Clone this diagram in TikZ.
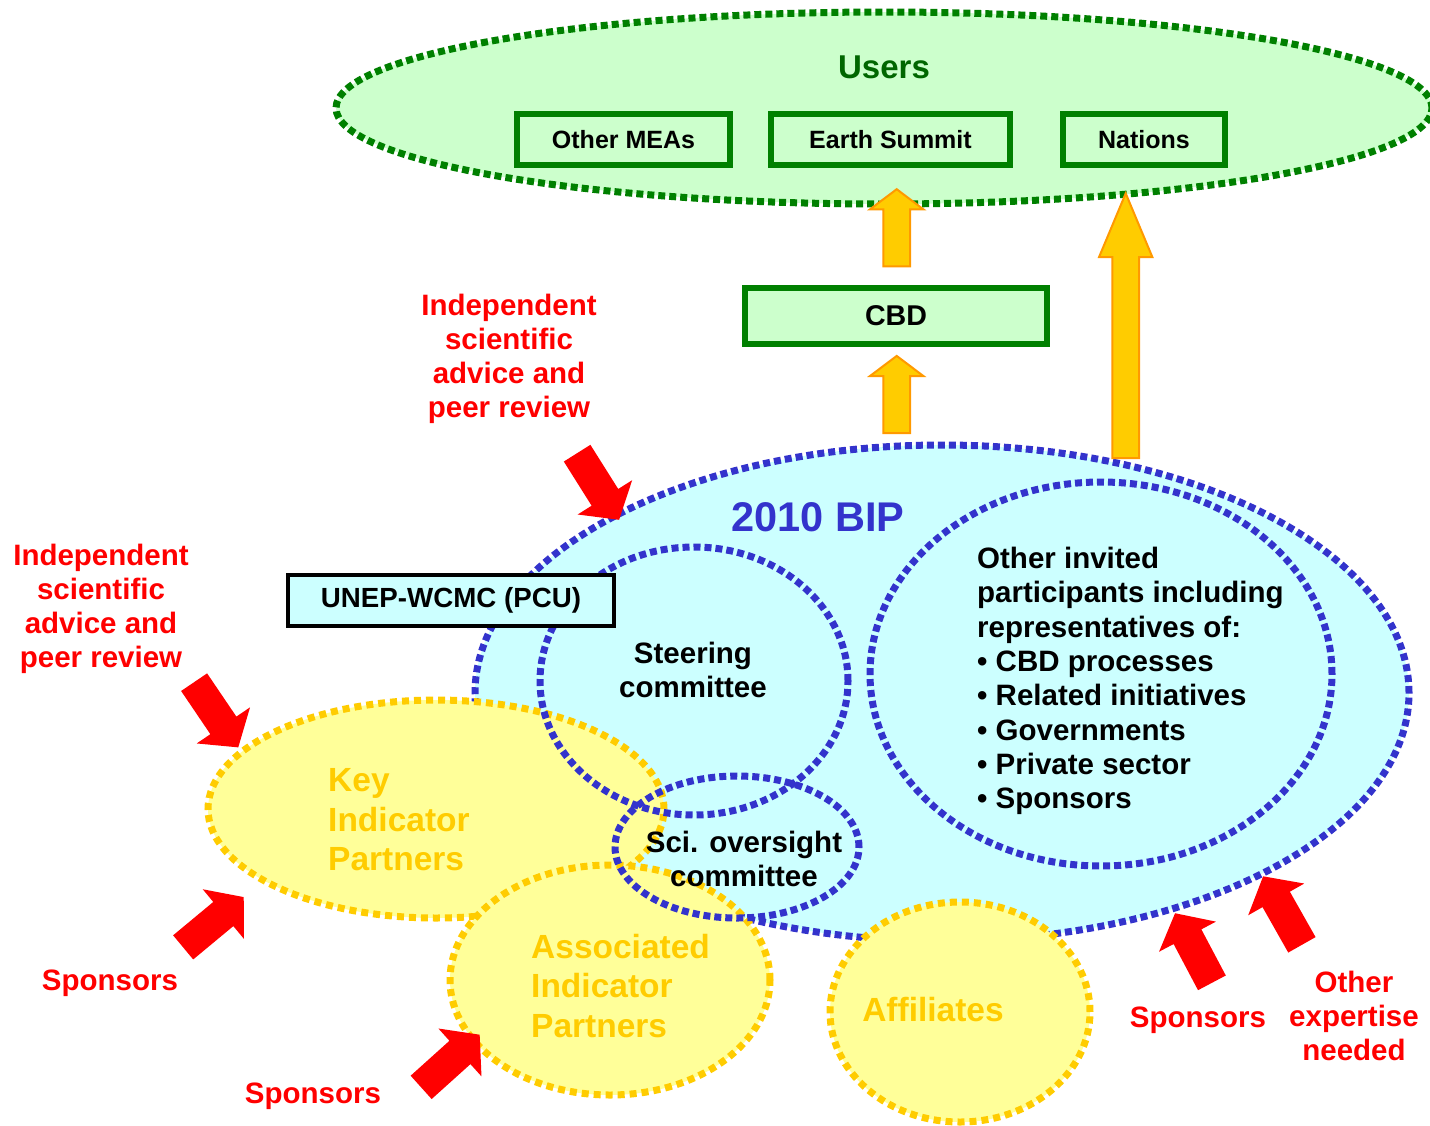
\documentclass[tikz,border=0pt]{standalone}
\usepackage{fontspec}
\setmainfont{Liberation Sans}
\usepackage{xcolor}
\usetikzlibrary{shapes.geometric, shapes.arrows, positioning}

\definecolor{usergreen}{HTML}{CCFFCC}
\definecolor{darkgreen}{HTML}{008000}
\definecolor{titlegreen}{HTML}{006600}
\definecolor{bipcyan}{HTML}{CCFFFF}
\definecolor{bipblue}{HTML}{3333CC}
\definecolor{partyellow}{HTML}{FFFF99}
\definecolor{gold}{HTML}{FFCC00}
\definecolor{arroworange}{HTML}{FF9900}

\tikzset{
  dots/.style={line width=7pt, dash pattern=on 7pt off 4pt},
  usercloud/.style={ellipse, inner sep=0pt, fill=usergreen, draw=darkgreen, dots},
  bipcloud/.style={ellipse, inner sep=0pt, fill=bipcyan, draw=bipblue, dots},
  bipring/.style={ellipse, inner sep=0pt, draw=bipblue, dots},
  partner/.style={ellipse, inner sep=0pt, fill=partyellow, draw=gold, dots, dash pattern=on 7pt off 5pt},
  greenbox/.style={draw=darkgreen, line width=6pt, fill=usergreen, inner sep=0pt,
    font=\bfseries\fontsize{25}{29}\selectfont},
  redlabel/.style={text=red, align=center, font=\bfseries\fontsize{29.5}{34}\selectfont},
  bodytext/.style={font=\bfseries\fontsize{29.5}{34.3}\selectfont},
  partnertext/.style={text=gold, align=left, font=\bfseries\fontsize{33.5}{39.5}\selectfont},
  redarrow/.style={single arrow, fill=red, inner xsep=32.7pt, inner ysep=15.5pt,
    single arrow head extend=16.5pt, single arrow tip angle=101, minimum size=0pt, anchor=tail},
  uparrow/.style={single arrow, fill=gold, draw=arroworange, line width=2pt, inner ysep=12.4pt,
    single arrow head extend=13.3pt, minimum size=0pt, anchor=tail, rotate=90}
}

\begin{document}
\begin{tikzpicture}[x=1pt, y=-1pt]
    \useasboundingbox[fill=white] (0,0) rectangle (1430,1125);

    % Users
    \node[usercloud, minimum width=1096pt, minimum height=192pt] (users) at (884,108) {};
    \node[font=\bfseries\fontsize{33}{38}\selectfont, text=titlegreen] (userstitle) at (884,67) {Users};
    \node[greenbox, minimum width=213pt, minimum height=51pt] (meas) at (623.5,139.5) {Other MEAs};
    \node[greenbox, minimum width=239pt, minimum height=51pt] (summit) at (890.5,139.5) {Earth Summit};
    \node[greenbox, minimum width=162pt, minimum height=51pt] (nations) at (1144,139.5) {Nations};

    % CBD
    \node[greenbox, minimum width=302pt, minimum height=56pt, font=\bfseries\fontsize{28.6}{33}\selectfont] (cbd) at (896,316) {CBD};

    % 2010 BIP
    \node[bipcloud, minimum width=934pt, minimum height=496pt] (bip) at (942,693) {};

    % Partners
    \node[partner, minimum width=456pt, minimum height=218pt] (keyip) at (436,809) {};
    \node[partner, minimum width=320pt, minimum height=230pt] (associp) at (610,980) {};
    \node[partner, minimum width=260pt, minimum height=220pt] (affiliates) at (960,1012) {};

    % Committees and participants
    \node[bipring, minimum width=308pt, minimum height=268pt] (steering) at (694,681) {};
    \node[bipring, minimum width=244pt, minimum height=142pt] (scioversight) at (737,847) {};
    \node[bipring, minimum width=462pt, minimum height=384pt] (invited) at (1101,674) {};

    % PCU
    \node[draw=black, line width=4pt, fill=bipcyan, minimum width=326pt, minimum height=51pt, inner sep=0pt,
      font=\bfseries\fontsize{27.7}{32}\selectfont] (unep) at (451,600.5) {UNEP-WCMC (PCU)};

    % Texts
    \node[font=\bfseries\fontsize{41.5}{48}\selectfont, text=bipblue] (biptitle) at (818,517) {2010 BIP};
    \node[bodytext, align=center] (steeringtext) at (693,670) {Steering\\committee};
    \node[bodytext, align=center] (scitext) at (744,859) {Sci. oversight\\committee};
    \node[bodytext, align=left, anchor=west, inner sep=0pt] (invitedtext) at (977,681)
      {Other invited\\participants including\\representatives of:\\• CBD processes\\• Related initiatives\\• Governments\\• Private sector\\• Sponsors};
    \node[partnertext, anchor=west, inner sep=0pt] (keytext) at (328,820) {Key\\Indicator\\Partners};
    \node[partnertext, anchor=west, inner sep=0pt] (assoctext) at (531,986) {Associated\\Indicator\\Partners};
    \node[partnertext] (affiltext) at (933,1010) {Affiliates};

    % Red labels
    \node[redlabel] (advicetop) at (509,358.5) {Independent\\scientific\\advice and\\peer review};
    \node[redlabel] (adviceleft) at (101,608.5) {Independent\\scientific\\advice and\\peer review};
    \node[redlabel] (sponsorsleft) at (110,983) {Sponsors};
    \node[redlabel] (sponsorsbottom) at (313,1096) {Sponsors};
    \node[redlabel] (sponsorsright) at (1198,1020) {Sponsors};
    \node[redlabel] (expertise) at (1354,1016) {Other\\expertise\\needed};

    % Yellow arrows up to the users
    \node[uparrow, inner xsep=32.5pt, single arrow tip angle=106] (bipcbd) at (896.7,434) {};
    \node[uparrow, inner xsep=32.5pt, single arrow tip angle=106] (cbdusers) at (896.7,267.3) {};
    \node[uparrow, inner xsep=115.3pt, single arrow tip angle=45.4] (bipusers) at (1125.7,459) {};

    % Red arrows
    \node[redarrow, rotate=-57.8] (advicetoparrow) at (577,453) {};
    \node[redarrow, rotate=-55.9] (adviceleftarrow) at (194,682) {};
    \node[redarrow, rotate=39.7] (sponsorsleftarrow) at (183,947.5) {};
    \node[redarrow, rotate=42] (sponsorsbottomarrow) at (421,1087.5) {};
    \node[redarrow, rotate=117.9] (sponsorsrightarrow) at (1212,983) {};
    \node[redarrow, rotate=119.5] (expertisearrow) at (1302,945) {};
\end{tikzpicture}
\end{document}
